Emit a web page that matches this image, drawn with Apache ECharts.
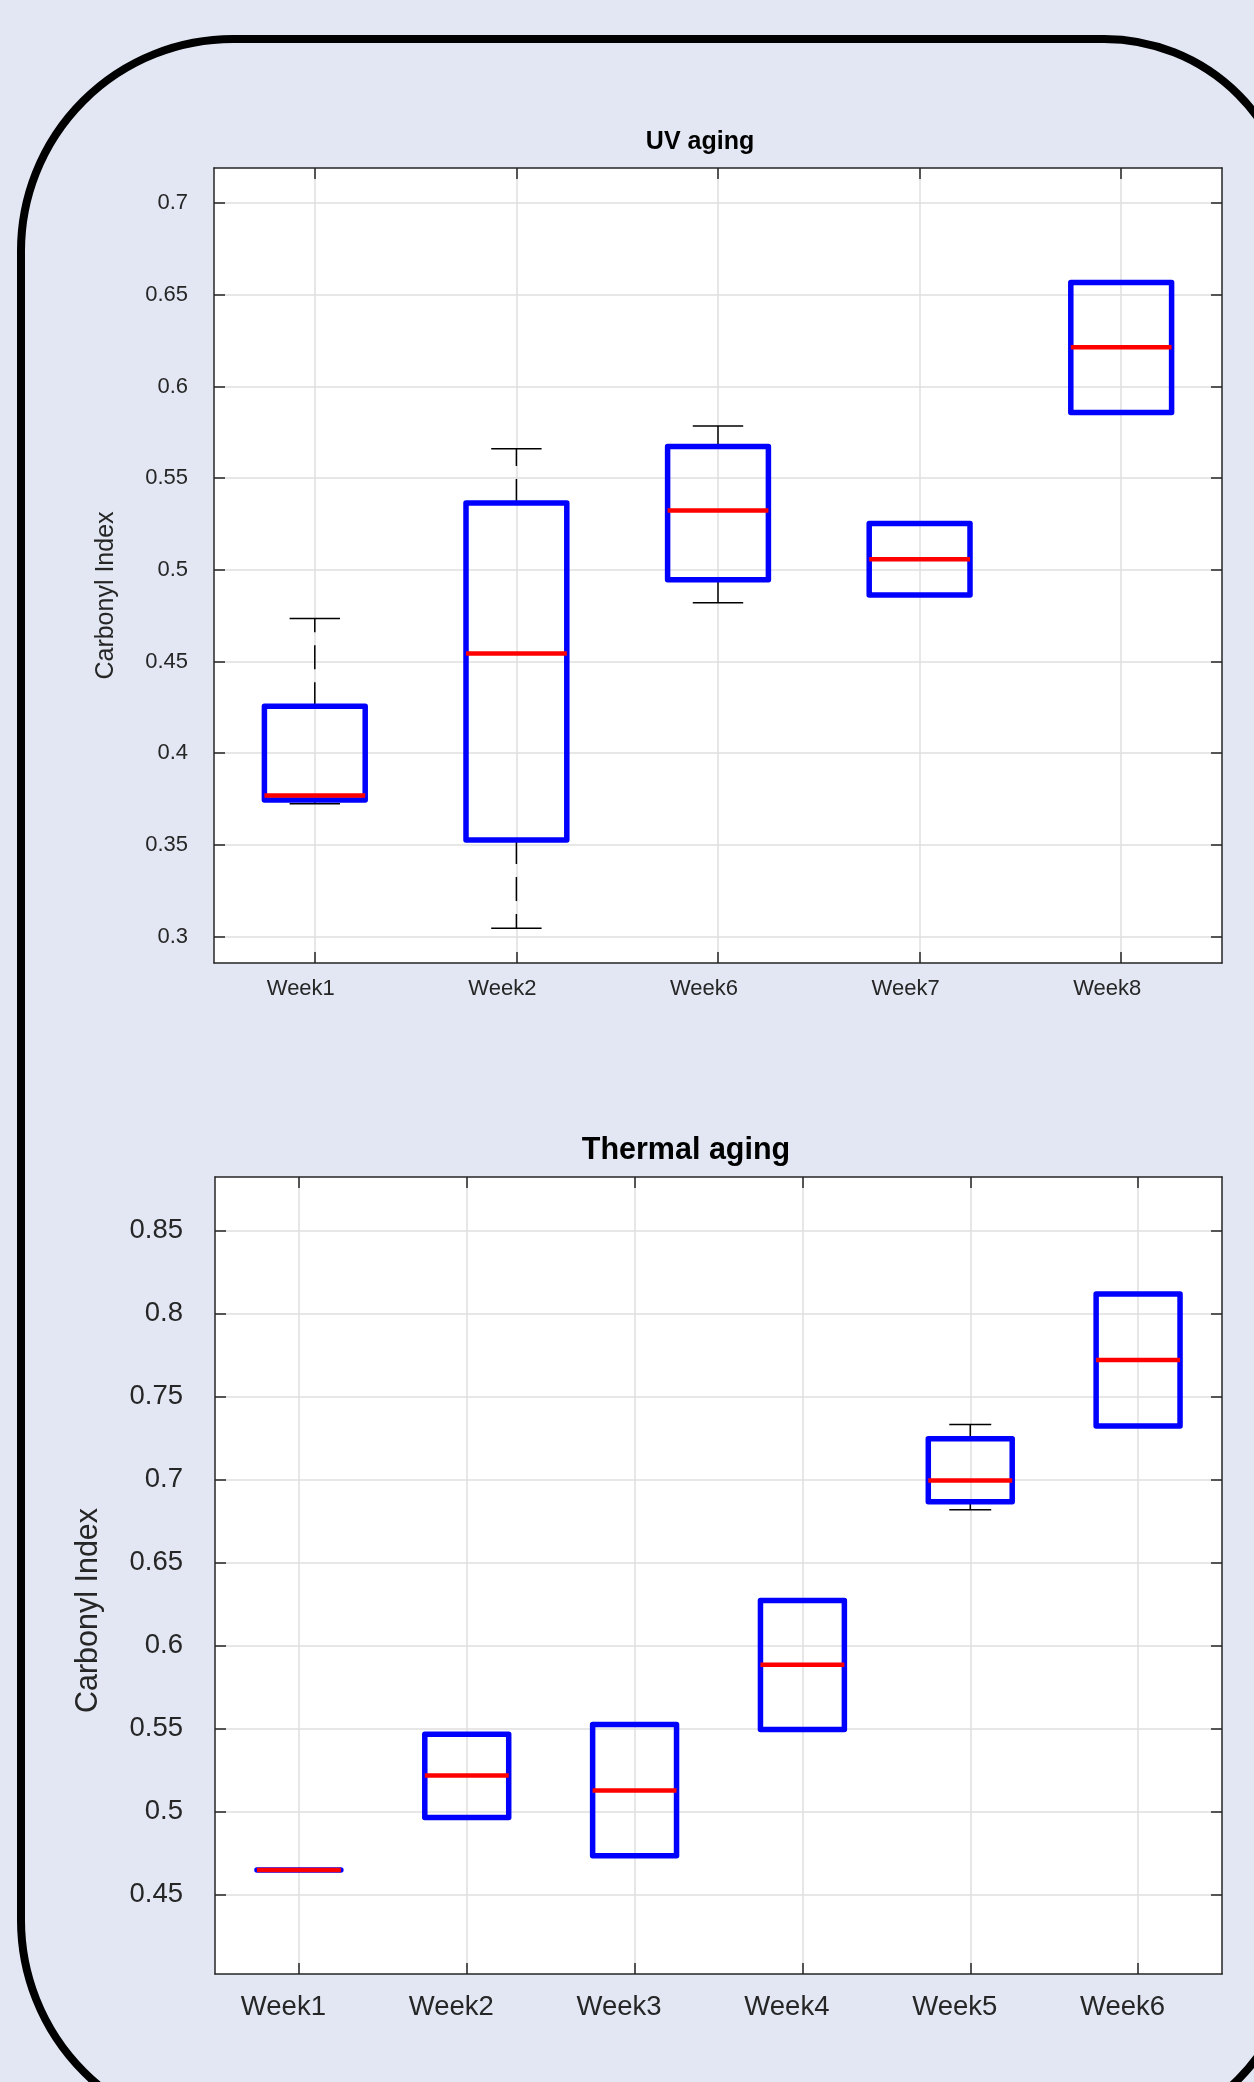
<!DOCTYPE html>
<html>
<head>
<meta charset="utf-8">
<script src="https://cdn.jsdelivr.net/npm/echarts@6/dist/echarts.min.js"></script>
<style>
html, body { margin: 0; padding: 0; background: #E2E7F3; }
#chart { width: 1254px; height: 2082px; }
</style>
</head>
<body>
<div id="chart"></div>
<script>
// ---------- UV aging ----------
const uvCategories = ['Week1', 'Week2', 'Week6', 'Week7', 'Week8'];
const uvMin    = [0.3725, 0.3045, 0.4821, 0.4863, 0.5859];
const uvQ1     = [0.3745, 0.3527, 0.4946, 0.4863, 0.5859];
const uvMedian = [0.3769, 0.4544, 0.5324, 0.5058, 0.6214];
const uvQ3     = [0.4256, 0.5365, 0.5673, 0.5253, 0.6568];
const uvMax    = [0.4735, 0.5661, 0.5785, 0.5253, 0.6568];
const uvYTicks = [0.3, 0.35, 0.4, 0.45, 0.5, 0.55, 0.6, 0.65, 0.7];

// ---------- Thermal aging ----------
const thCategories = ['Week1', 'Week2', 'Week3', 'Week4', 'Week5', 'Week6'];
const thMin    = [0.465, 0.4966, 0.4735, 0.5495, 0.6818, 0.7322];
const thQ1     = [0.465, 0.4966, 0.4735, 0.5495, 0.6866, 0.7322];
const thMedian = [0.465, 0.5219, 0.5129, 0.5885, 0.6994, 0.7719];
const thQ3     = [0.465, 0.5467, 0.5526, 0.6272, 0.7246, 0.8117];
const thMax    = [0.465, 0.5467, 0.5526, 0.6272, 0.7332, 0.8117];
const thYTicks = [0.45, 0.5, 0.55, 0.6, 0.65, 0.7, 0.75, 0.8, 0.85];

const FONT = 'Liberation Sans';
const AXIS_COLOR = '#262626';
const GRID_COLOR = '#DFDFDF';

function rows(mins, q1s, meds, q3s, maxs) {
  return mins.map((v, i) => [i, mins[i], q1s[i], meds[i], q3s[i], maxs[i]]);
}

function boxRenderer(params, api) {
  const x = api.value(0);
  const band = api.size([1, 0])[0];
  const half = band * 0.25;
  const capHalf = band * 0.125;
  const pMin = api.coord([x, api.value(1)]);
  const pQ1 = api.coord([x, api.value(2)]);
  const pMed = api.coord([x, api.value(3)]);
  const pQ3 = api.coord([x, api.value(4)]);
  const pMax = api.coord([x, api.value(5)]);
  const cx = pMed[0];
  const dash = { stroke: '#000', lineWidth: 1.5, lineDash: [24, 13] };
  const solid = { stroke: '#000', lineWidth: 1.5 };
  return {
    type: 'group',
    children: [
      { type: 'line', shape: { x1: cx, y1: pQ3[1], x2: cx, y2: pMax[1] }, style: dash },
      { type: 'line', shape: { x1: cx, y1: pQ1[1], x2: cx, y2: pMin[1] }, style: dash },
      { type: 'line', shape: { x1: cx - capHalf, y1: pMax[1], x2: cx + capHalf, y2: pMax[1] }, style: solid },
      { type: 'line', shape: { x1: cx - capHalf, y1: pMin[1], x2: cx + capHalf, y2: pMin[1] }, style: solid },
      { type: 'rect', shape: { x: cx - half, y: pQ3[1], width: 2 * half, height: pQ1[1] - pQ3[1] },
        style: { fill: 'none', stroke: '#0000FF', lineWidth: 5.5, lineJoin: 'round', lineCap: 'round' } },
      { type: 'line', shape: { x1: cx - half, y1: pMed[1], x2: cx + half, y2: pMed[1] },
        style: { stroke: '#FF0000', lineWidth: 4.5 } }
    ]
  };
}

function catAxis(gridIndex, data, position, fontSize, showLabel, margin, shift) {
  return {
    type: 'category', gridIndex: gridIndex, data: data, position: position, boundaryGap: true,
    axisLine: { show: true, lineStyle: { color: AXIS_COLOR, width: 1.5 } },
    axisTick: { show: true, inside: true, alignWithLabel: true, length: 11, lineStyle: { color: AXIS_COLOR, width: 1.5 } },
    axisLabel: { show: showLabel, color: AXIS_COLOR, fontSize: fontSize, fontFamily: FONT, margin: margin,
      padding: [0, shift * 2, 0, 0] },
    splitLine: { show: position === 'bottom', alignWithLabel: true, lineStyle: { color: GRID_COLOR, width: 1.5 } }
  };
}

function valAxis(gridIndex, position, min, max, ticks, fontSize, showLabel, margin, upShift, name, nameGap, nameSize, nameShift) {
  return {
    type: 'value', gridIndex: gridIndex, position: position, min: min, max: max,
    axisLine: { show: true, lineStyle: { color: AXIS_COLOR, width: 1.5 } },
    axisTick: { show: true, inside: true, length: 11, customValues: ticks, lineStyle: { color: AXIS_COLOR, width: 1.5 } },
    axisLabel: { show: showLabel, customValues: ticks, color: AXIS_COLOR, fontSize: fontSize, fontFamily: FONT,
      margin: margin, padding: [0, 0, upShift * 2, 0] },
    splitLine: { show: position === 'left', lineStyle: { color: GRID_COLOR, width: 1.5 } },
    name: name, nameLocation: 'middle', nameGap: nameGap, nameRotate: 90,
    nameTextStyle: { color: AXIS_COLOR, fontSize: nameSize, fontFamily: FONT, padding: [0, nameShift * 2, 0, 0] }
  };
}

const chart = echarts.init(document.getElementById('chart'), null, { renderer: 'canvas' });

chart.setOption({
  backgroundColor: '#E2E7F3',
  animation: false,
  title: [
    { text: 'UV aging', left: 695, top: 125, textAlign: 'center',
      textStyle: { fontFamily: FONT, fontWeight: 'bold', fontSize: 25, color: '#000' } },
    { text: 'Thermal aging', left: 681, top: 1130, textAlign: 'center',
      textStyle: { fontFamily: FONT, fontWeight: 'bold', fontSize: 30.5, color: '#000' } }
  ],
  graphic: [
    { type: 'rect', shape: { x: 21, y: 39, width: 1273, height: 2096, r: [212, 190, 190, 215] },
      style: { fill: 'none', stroke: '#000', lineWidth: 8 }, silent: true }
  ],
  grid: [
    { left: 214, top: 168, width: 1008, height: 795, show: true, backgroundColor: '#fff', borderWidth: 0 },
    { left: 215, top: 1177, width: 1007, height: 797, show: true, backgroundColor: '#fff', borderWidth: 0 }
  ],
  xAxis: [
    catAxis(0, uvCategories, 'bottom', 22, true, 15, 14),
    catAxis(0, uvCategories, 'top', 22, false, 15, 0),
    catAxis(1, thCategories, 'bottom', 27.5, true, 19, 15.5),
    catAxis(1, thCategories, 'top', 27.5, false, 19, 0)
  ],
  yAxis: [
    valAxis(0, 'left', 0.2856, 0.7192, uvYTicks, 22, true, 26, 6, 'Carbonyl Index', 95, 25, 30),
    valAxis(0, 'right', 0.2856, 0.7192, uvYTicks, 22, false, 26, 0, '', 0, 25, 0),
    valAxis(1, 'left', 0.4024, 0.8821, thYTicks, 27.5, true, 32, 7.5, 'Carbonyl Index', 111, 30.5, 35),
    valAxis(1, 'right', 0.4024, 0.8821, thYTicks, 27.5, false, 32, 0, '', 0, 30.5, 0)
  ],
  series: [
    { type: 'custom', name: 'UV aging', xAxisIndex: 0, yAxisIndex: 0, renderItem: boxRenderer,
      encode: { x: 0, y: [1, 2, 3, 4, 5] }, data: rows(uvMin, uvQ1, uvMedian, uvQ3, uvMax), z: 5 },
    { type: 'custom', name: 'Thermal aging', xAxisIndex: 2, yAxisIndex: 2, renderItem: boxRenderer,
      encode: { x: 0, y: [1, 2, 3, 4, 5] }, data: rows(thMin, thQ1, thMedian, thQ3, thMax), z: 5 }
  ]
});
</script>
</body>
</html>
